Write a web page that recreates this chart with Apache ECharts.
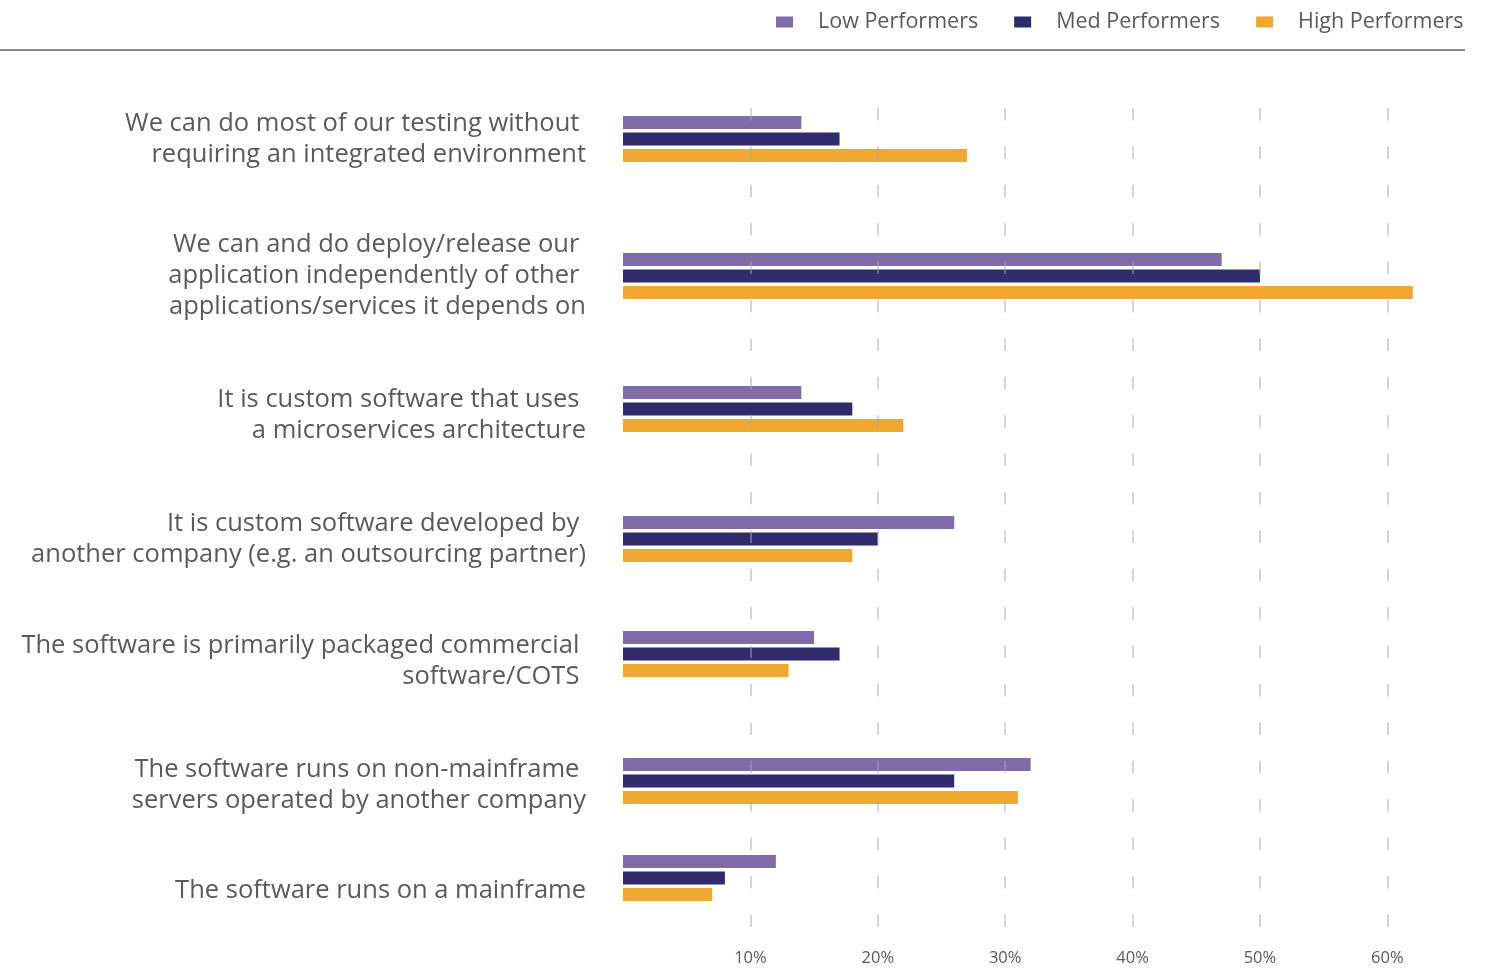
<!DOCTYPE html>
<html>
<head>
<meta charset="utf-8">
<script src="https://cdn.jsdelivr.net/npm/echarts@6/dist/echarts.min.js"></script>
<style>html,body{margin:0;padding:0;background:#fff}#c{width:1498px;height:968px}</style>
</head>
<body>
<div id="c"></div>
<script>
// ---- data ----
const categories = [
  'We can do most of our testing without \nrequiring an integrated environment',
  'We can and do deploy/release our \napplication independently of other \napplications/services it depends on',
  'It is custom software that uses \na microservices architecture',
  'It is custom software developed by \nanother company (e.g. an outsourcing partner)',
  'The software is primarily packaged commercial \nsoftware/COTS ',
  'The software runs on non-mainframe \nservers operated by another company',
  'The software runs on a mainframe'
];
const seriesNames = ['Low Performers', 'Med Performers', 'High Performers'];
const lowPerformers  = [14, 47, 14, 26, 15, 32, 12];
const medPerformers  = [17, 50, 18, 20, 17, 26, 8];
const highPerformers = [27, 62, 22, 18, 13, 31, 7];
const tickValues = [10, 20, 30, 40, 50, 60];

// ---- layout / style ----
const colors = ['#806bab', '#2f2b6c', '#f0a830'];
const groupCenters = [139, 276, 409, 539, 654, 781, 878];
const labelShift = [0, 0, 6, 0, 7, 4, 13];
const plotLeft = 623, plotRight = 47, xMax = 65;
const textColor = '#5a5a5a';
const font = '"Open Sans", "Noto Sans", sans-serif';

const values = [lowPerformers, medPerformers, highPerformers];

const grids = [{ left: plotLeft, right: plotRight, top: 108, bottom: 40 }];
const xAxes = [{
  gridIndex: 0, type: 'value', min: 0, max: xMax, interval: 10, z: 5,
  axisLine: { show: false }, axisTick: { show: false },
  axisLabel: {
    color: textColor, fontFamily: font, fontSize: 16.5, margin: 22,
    formatter: v => tickValues.includes(v) ? v + '%' : ''
  },
  splitLine: {
    show: true, showMinLine: false, showMaxLine: false,
    lineStyle: { color: 'rgba(170,170,170,0.65)', width: 1.5, type: [12.5, 25.9] }
  }
}];
const yAxes = [{ gridIndex: 0, type: 'value', show: false }];
const series = [];

const labelTextStyle = { color: textColor, fontFamily: font, fontSize: 25.5, lineHeight: 31 };

categories.forEach((cat, i) => {
  const gi = i + 1;
  grids.push({ left: plotLeft, right: plotRight, top: groupCenters[i] - 25, height: 50 });
  xAxes.push({ gridIndex: gi, type: 'value', min: 0, max: xMax, show: false, splitLine: { show: false } });
  yAxes.push({
    gridIndex: gi, type: 'category', data: [cat], inverse: true,
    axisLine: { show: false }, axisTick: { show: false }, splitLine: { show: false },
    axisLabel: Object.assign({}, labelTextStyle, {
      margin: 37, align: 'right',
      formatter: v => v.split('\n').map(l => '{f|' + l + '}').join('\n'),
      rich: {
        f: Object.assign({}, labelTextStyle, { padding: [labelShift[i] * 2, 0, 0, 0] })
      }
    })
  });
  seriesNames.forEach((name, s) => {
    series.push({
      name, type: 'bar', xAxisIndex: gi, yAxisIndex: gi,
      data: [values[s][i]], barWidth: 13, barGap: '27%',
      itemStyle: { color: colors[s] }, silent: true
    });
  });
});

const chart = echarts.init(document.getElementById('c'), null, { renderer: 'canvas' });
chart.setOption({
  animation: false,
  color: colors,
  grid: grids,
  xAxis: xAxes,
  yAxis: yAxes,
  legend: {
    data: seriesNames, left: 771, top: 6,
    icon: 'rect', itemWidth: 17, itemHeight: 11, itemGap: 36,
    textStyle: { color: textColor, fontFamily: font, fontSize: 21.5, padding: [0, 0, 0, 20] }
  },
  graphic: [{
    type: 'line', shape: { x1: 0, y1: 50, x2: 1465, y2: 50 },
    style: { stroke: '#8a8a8a', lineWidth: 2 }
  }],
  series
});
</script>
</body>
</html>
